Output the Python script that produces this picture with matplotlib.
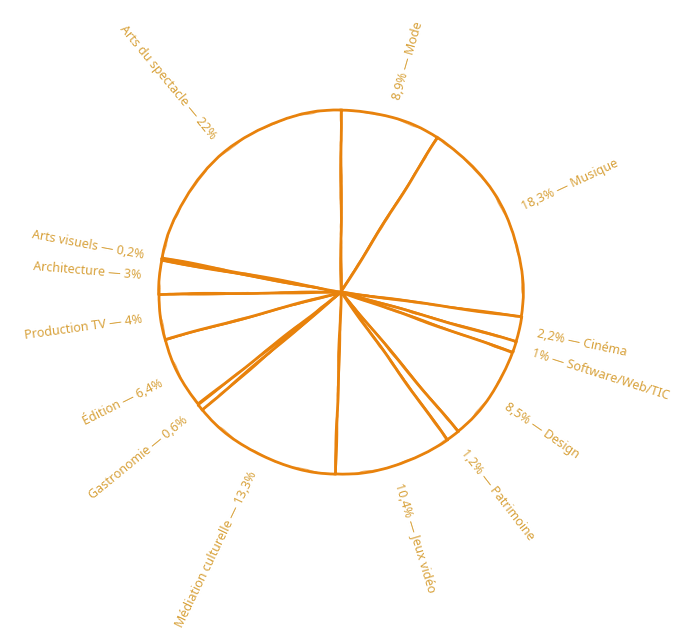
import numpy as np
import matplotlib
matplotlib.use('Agg')
import matplotlib.pyplot as plt

# slices, clockwise from 12 o'clock
names = ['Mode', 'Musique', 'Cinéma', 'Software/Web/TIC', 'Design', 'Patrimoine',
         'Jeux vidéo', 'Médiation culturelle', 'Gastronomie', 'Édition',
         'Production TV', 'Architecture', 'Arts visuels', 'Arts du spectacle']
shares = [8.9, 18.3, 2.2, 1.0, 8.5, 1.2, 10.4, 13.3, 0.6, 6.4, 4.0, 3.0, 0.2, 22.0]

line_col = '#E8820C'
text_col = '#D8A23C'

fig = plt.figure(figsize=(6.83, 6.37), dpi=100)
ax = fig.add_axes([0, 0, 1, 1])

cx, cy, r = 341, 345, 182

wedges, _ = ax.pie(shares, center=(cx, cy), radius=r, startangle=90,
                   counterclock=False, frame=True,
                   wedgeprops=dict(facecolor='white', edgecolor=line_col, linewidth=2.0))
for w in wedges:
    w.set_sketch_params(scale=0.4, length=120, randomness=3)

# a second, thinner pass for the doubled "pencil" look
wedges2, _ = ax.pie(shares, center=(cx, cy), radius=r * 0.997, startangle=90,
                    counterclock=False, frame=True,
                    wedgeprops=dict(facecolor='none', edgecolor=line_col, linewidth=0.7, alpha=0.6))
for w in wedges2:
    w.set_sketch_params(scale=0.8, length=60, randomness=5)

ax.set_xlim(0, 683)
ax.set_ylim(0, 637)
ax.set_aspect('equal')
ax.axis('off')

def fmt(v):
    return ('%g' % v).replace('.', ',') + '%'

cum = 0.0
for name, v in zip(names, shares):
    mid = (cum + v / 2) / 100 * 360  # degrees clockwise from top
    cum += v
    a = np.deg2rad(90 - mid)
    x = cx + 1.1 * r * np.cos(a)
    y = cy + 1.1 * r * np.sin(a)
    rot = 90 - mid
    if mid <= 180:
        ax.text(x, y, fmt(v) + ' — ' + name, rotation=rot, rotation_mode='anchor',
                ha='left', va='center', color=text_col, fontsize=9, family='Noto Sans')
    else:
        ax.text(x, y, name + ' — ' + fmt(v), rotation=rot + 180, rotation_mode='anchor',
                ha='right', va='center', color=text_col, fontsize=9, family='Noto Sans')

fig.savefig('out.png', dpi=100, facecolor='white')
